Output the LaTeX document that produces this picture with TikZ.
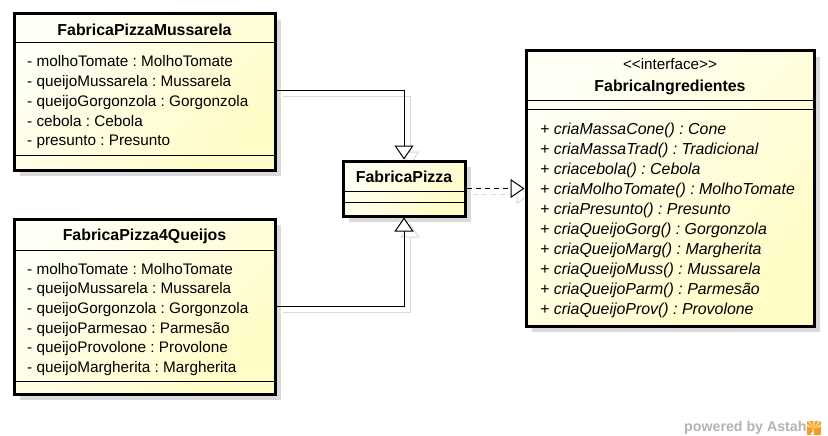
\documentclass[tikz,border=0pt]{standalone}
\usepackage{fontspec}
\setmainfont{Liberation Sans}
\usepackage{xcolor}
\usetikzlibrary{arrows.meta,shadows,fit,backgrounds}
\frenchspacing

\definecolor{boxlight}{HTML}{FFFFF5}
\definecolor{boxdark}{HTML}{FFFCC6}
\definecolor{shadowgray}{HTML}{DADADA}
\definecolor{markgray}{HTML}{B3B3B3}
\definecolor{astahorange}{HTML}{F39C2C}
\definecolor{astahyellow}{HTML}{FCD680}

\begin{document}
\begin{tikzpicture}[x=1pt, y=-1pt,
        classbox/.style={draw=black, line width=3pt, inner sep=0pt,
            top color=boxlight, bottom color=boxdark, shading angle=45,
            drop shadow={shadow xshift=6pt, shadow yshift=-6pt, fill=shadowgray, opacity=1}},
        sepline/.style={black, line width=1pt},
        titletext/.style={inner sep=0pt, anchor=base, font=\fontsize{15.9}{19}\selectfont\bfseries},
        stereotext/.style={inner sep=0pt, anchor=base, font=\fontsize{15.2}{19}\selectfont},
        attrtext/.style={inner sep=0pt, anchor=base west, font=\fontsize{15.3}{19}\selectfont},
        opertext/.style={inner sep=0pt, anchor=base west, font=\fontsize{15.9}{19}\selectfont\itshape},
        genline/.style={black, line width=1pt, -{Triangle[length=14pt, width=19pt, fill=white]}},
        realline/.style={genline, dash pattern=on 5pt off 4pt},
        ghost/.style={draw=shadowgray, transform canvas={shift={(6,6)}}},
    ]
        \useasboundingbox (0,0) rectangle (828,436);

        % the classes
        \node [classbox, fit={(14,14) (275,170)}] (mussarela) {};
        \draw [sepline] (mussarela.west |- 0,43) to (mussarela.east |- 0,43);
        \draw [sepline] (mussarela.west |- 0,155) to (mussarela.east |- 0,155);
        \node [titletext] (mussarelaName) at (mussarela.center |- 0,36) {FabricaPizzaMussarela};
        \foreach \attr [count=\i from 0] in {- molhoTomate : MolhoTomate, - queijoMussarela : Mussarela,
            - queijoGorgonzola : Gorgonzola, - cebola : Cebola, - presunto : Presunto}
            \node [attrtext] (mussarelaAttr\i) at (27, 66.7+19.8*\i) {\attr};

        \node [classbox, fit={(14,219) (275,394)}] (quatro) {};
        \draw [sepline] (quatro.west |- 0,250) to (quatro.east |- 0,250);
        \draw [sepline] (quatro.west |- 0,381) to (quatro.east |- 0,381);
        \node [titletext] (quatroName) at (quatro.center |- 0,240.7) {FabricaPizza4Queijos};
        \foreach \attr [count=\i from 0] in {- molhoTomate : MolhoTomate, - queijoMussarela : Mussarela,
            - queijoGorgonzola : Gorgonzola, - queijoParmesao : Parmesão,
            - queijoProvolone : Provolone, - queijoMargherita : Margherita}
            \node [attrtext] (quatroAttr\i) at (27, 274+19.7*\i) {\attr};

        \node [classbox, fit={(343,161) (465,216)}] (pizza) {};
        \draw [sepline] (pizza.west |- 0,191) to (pizza.east |- 0,191);
        \draw [sepline] (pizza.west |- 0,202) to (pizza.east |- 0,202);
        \node [titletext] (pizzaName) at (pizza.center |- 0,182.7) {FabricaPizza};

        \node [classbox, fit={(526,51) (814,326)}] (iface) {};
        \draw [sepline] (iface.west |- 0,101) to (iface.east |- 0,101);
        \draw [sepline] (iface.west |- 0,110) to (iface.east |- 0,110);
        \node [stereotext] (ifaceStereo) at (iface.center |- 0,69.3) {{<}{<}interface{>}{>}};
        \node [titletext] (ifaceName) at (iface.center |- 0,91.7) {FabricaIngredientes};
        \foreach \oper [count=\i from 0] in {+ criaMassaCone() : Cone, + criaMassaTrad() : Tradicional,
            + criacebola() : Cebola, + criaMolhoTomate() : MolhoTomate, + criaPresunto() : Presunto,
            + criaQueijoGorg() : Gorgonzola, + criaQueijoMarg() : Margherita,
            + criaQueijoMuss() : Mussarela, + criaQueijoParm() : Parmesão,
            + criaQueijoProv() : Provolone}
            \node [opertext] (ifaceOper\i) at (540, 135+19.9*\i) {\oper};

        % shadows of the connectors, behind the boxes
        \begin{scope}[on background layer]
            \fill [white] (0,0) rectangle (828,436);
            \draw [genline, ghost] (mussarela.east |- 0,91) -| (pizza.north);
            \draw [genline, ghost] (quatro.east |- 0,306) -| (pizza.south);
            \draw [realline, ghost] (pizza.east) to (iface.west);
        \end{scope}

        % connectors
        \draw [genline] (mussarela.east |- 0,91) -| (pizza.north);
        \draw [genline] (quatro.east |- 0,306) -| (pizza.south);
        \draw [realline] (pizza.east) to (iface.west);

        % watermark
        \node [inner sep=0pt, anchor=base west, text=markgray, font=\fontsize{14.2}{16}\selectfont\bfseries] (poweredby) at (684,431) {powered by Astah};
        \fill [astahorange] (807,421) rectangle (821,435);
        \fill [astahyellow] (814,428) -- (807,421) -- (810,421) -- cycle;
        \fill [astahyellow] (814,428) -- (812.5,421) -- (815.5,421) -- cycle;
        \fill [astahyellow] (814,428) -- (818,421) -- (821,421) -- cycle;
        \fill [astahyellow] (814,428) -- (821,424) -- (821,427) -- cycle;
        \fill [astahyellow] (814,428) -- (807,424) -- (807,427) -- cycle;
        \draw [white, line width=1pt] (813,432) arc (270:90:1.6) -- (813,432.2) -- (813,428.8);
\end{tikzpicture}
\end{document}
